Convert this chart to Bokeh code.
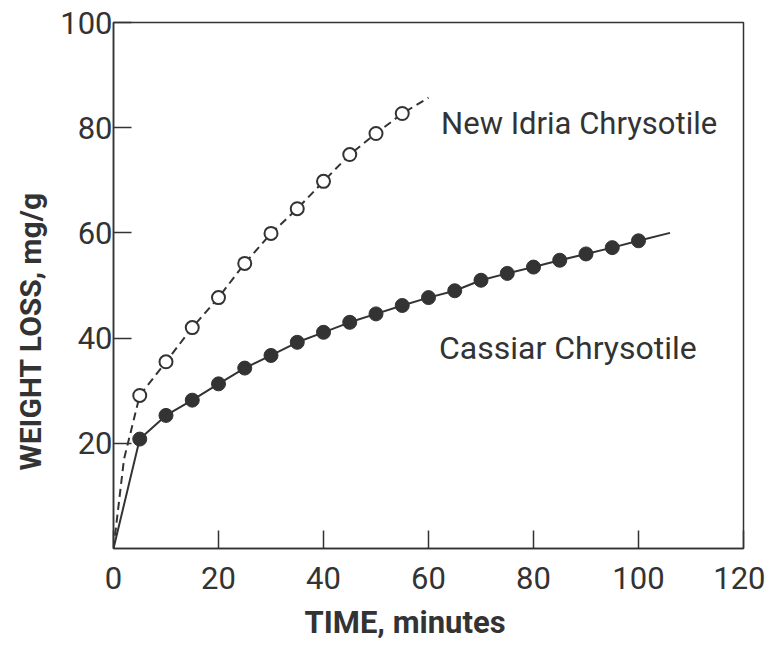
from bokeh.plotting import figure
from bokeh.models import Label, FixedTicker, Range1d, Title
from bokeh.embed import file_html
from bokeh.resources import INLINE

# Measured points
time_cassiar = [5, 10, 15, 20, 25, 30, 35, 40, 45, 50, 55, 60, 65, 70, 75, 80, 85, 90, 95, 100]
loss_cassiar = [20.8, 25.3, 28.2, 31.3, 34.3, 36.7, 39.2, 41.1, 43.0, 44.6, 46.2, 47.7, 49.0,
                51.0, 52.3, 53.5, 54.8, 56.0, 57.2, 58.5]
time_idria = [5, 10, 15, 20, 25, 30, 35, 40, 45, 50, 55]
loss_idria = [29.1, 35.5, 42.0, 47.7, 54.2, 59.9, 64.6, 69.8, 74.9, 78.9, 82.7]

# Drawn curves (through the origin, extended slightly past the last point)
curve_cassiar_t = [0] + time_cassiar + [106]
curve_cassiar_w = [0] + loss_cassiar + [60.0]
curve_idria_t = [0, 2] + time_idria + [60]
curve_idria_w = [0, 17.0] + loss_idria + [85.7]

x_ticks = [0, 20, 40, 60, 80, 100, 120]
y_ticks = [20, 40, 60, 80, 100]

INK = "#333333"
FONT = "Roboto"

p = figure(width=765, height=651, output_backend="svg", toolbar_location=None,
           x_range=Range1d(0, 120), y_range=Range1d(0, 100),
           min_border_left=112, min_border_right=22, min_border_top=22, min_border_bottom=103)

p.grid.visible = False
p.background_fill_color = "white"
p.border_fill_color = "white"
p.outline_line_color = INK
p.outline_line_width = 1.5

for ax in (p.xaxis[0], p.yaxis[0]):
    ax.axis_line_color = INK
    ax.axis_line_width = 1.5
    ax.major_tick_line_color = INK
    ax.major_tick_line_width = 1.5
    ax.major_tick_in = 18
    ax.major_tick_out = 0
    ax.minor_tick_line_color = None
    ax.major_label_text_font = FONT
    ax.major_label_text_font_size = "31px"
    ax.major_label_text_color = INK

p.xaxis.ticker = FixedTicker(ticks=x_ticks)
p.yaxis.ticker = FixedTicker(ticks=y_ticks)
p.xaxis.major_label_standoff = 18
p.yaxis.major_label_standoff = 1

# Curves
p.line(curve_cassiar_t, curve_cassiar_w, line_color=INK, line_width=2)
p.line(curve_idria_t, curve_idria_w, line_color=INK, line_width=2, line_dash="8 5")

# Points
p.scatter(time_cassiar, loss_cassiar, size=14, fill_color=INK, line_color=INK)
p.scatter(time_idria, loss_idria, size=13, fill_color="white", line_color=INK, line_width=2)

# Curve labels
p.add_layout(Label(x=62.4, y=80.8, text="New Idria Chrysotile", text_font=FONT,
                   text_font_size="31px", text_color=INK, text_baseline="alphabetic"))
p.add_layout(Label(x=62.0, y=38.2, text="Cassiar Chrysotile", text_font=FONT,
                   text_font_size="32px", text_color=INK, text_baseline="alphabetic"))

# Axis titles, placed in the side panels
p.add_layout(Title(text="TIME, minutes", align="left", offset=191, standoff=20,
                   text_font=FONT, text_font_size="31px", text_font_style="bold",
                   text_color=INK), "below")
p.add_layout(Title(text="WEIGHT LOSS, mg/g", align="left", offset=78, standoff=20,
                   text_font=FONT, text_font_size="30px", text_font_style="bold",
                   text_color=INK), "left")

open("out.html", "w").write(file_html(p, INLINE))
